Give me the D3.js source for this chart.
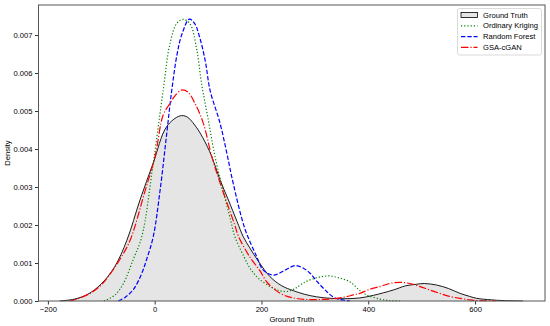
<!DOCTYPE html>
<html>
<head>
<meta charset="utf-8">
<script src="https://cdn.jsdelivr.net/npm/d3@7"></script>
<style>
  html, body { margin: 0; padding: 0; background: #fff; }
  svg { display: block; font-family: "Liberation Sans", Arial, sans-serif; }
</style>
</head>
<body>
<svg id="chart" width="550" height="326"></svg>
<script>
// ---- Data ----
const seriesNames = ["Ground Truth", "Ordinary Kriging", "Random Forest", "GSA-cGAN"];

const gtX = [-178,-150,-125,-100,-75,-52,-27.5,-3,22.5,47,60,75,90,107,122,138,154,166,178,194,216,238,260,280,303,330,355,384,410,447,470,490,505,528,550,572,590,603,630,655,690];
const gtY = [0,0.00005,0.00018,0.00045,0.0009,0.0016,0.00266,0.00362,0.00459,0.00487,0.00485,0.00463,0.0043,0.0038,0.0032,0.00266,0.0021,0.00169,0.0014,0.00105,0.00064,0.0004,0.00027,0.00018,0.00011,0.00007,0.00006,0.00008,0.00015,0.00029,0.0004,0.00044,0.00046,0.00042,0.00033,0.0002,0.00012,0.00007,0.00003,0.00001,0];

const okX = [-95,-75,-59,-40,-24,-3,16,29,42,54,66,79,88,100,113,130,141,150,166,179,194,216,232,247,262,278,300,325,345,366,384,397,422,440,460];
const okY = [0,0.00015,0.00045,0.0011,0.0017,0.0036,0.00555,0.0068,0.00732,0.00741,0.0073,0.0066,0.0057,0.0048,0.0038,0.0028,0.0022,0.0017,0.0012,0.00085,0.0006,0.00038,0.00028,0.00025,0.00032,0.00047,0.0006,0.00066,0.00061,0.0005,0.00028,0.00016,0.00005,0.00001,0];

const rfX = [-68,-55,-40,-25,-15,-2.6,10,22.5,32,42,50.5,65,75,85,95,103.6,122,135,147,169,191,203,222,240,263,280,291,305,322,335,347,366];
const rfY = [0,0.0001,0.0003,0.0007,0.0011,0.0017,0.0029,0.0044,0.00555,0.0065,0.007,0.00742,0.0073,0.0069,0.0063,0.00555,0.0047,0.0039,0.0031,0.0019,0.00117,0.00082,0.00068,0.00078,0.00093,0.00085,0.00073,0.0005,0.00025,0.0001,0.00004,0];

const ganX = [-160,-152,-121,-100,-84,-65,-46,-18,0.6,16,28.7,38,50,62,75.5,91,107,125,150,157,178.5,197,210,225,241,260,285,310,334,355,372,384,403,422,440,459,478,497,515,534,552,572,590,609,640];
const ganY = [0,0.00002,0.0002,0.00042,0.0007,0.0011,0.0016,0.0029,0.0038,0.0049,0.0052,0.0054,0.00555,0.0055,0.0052,0.00468,0.0038,0.003,0.002,0.0017,0.00115,0.0008,0.0005,0.0003,0.00016,0.00008,0.00004,0.00004,0.00006,0.0001,0.00016,0.0002,0.00031,0.00038,0.00046,0.00049,0.00046,0.00038,0.00029,0.0002,0.00012,0.00007,0.00003,0.00001,0];

const xTicks = [-200, 0, 200, 400, 600];
const yTicks = [0, 0.001, 0.002, 0.003, 0.004, 0.005, 0.006, 0.007];

// ---- Layout ----
const L = 38.5, R = 545, T = 5, B = 301;
const svg = d3.select("#chart");
const x = d3.scaleLinear().domain([-217.6, 731]).range([L, R]);
const y = d3.scaleLinear().domain([0, 0.00779]).range([B, T]);

const zip = (xs, ys) => xs.map((v, i) => [v, ys[i]]);
const curve = d3.curveCatmullRom.alpha(0.5);
const line = d3.line().x(d => x(d[0])).y(d => y(d[1])).curve(curve);
const area = d3.area().x(d => x(d[0])).y0(y(0)).y1(d => y(d[1])).curve(curve);

svg.append("clipPath").attr("id", "clip").append("rect")
  .attr("x", L).attr("y", T).attr("width", R - L).attr("height", B - T + 0.5);
const g = svg.append("g").attr("clip-path", "url(#clip)");

const gt = zip(gtX, gtY);
g.append("path").attr("d", area(gt)).attr("fill", "#e5e5e5");
g.append("path").attr("d", line(gt)).attr("fill", "none").attr("stroke", "#000").attr("stroke-width", 0.9);

const styles = [
  { data: zip(okX, okY), color: "#008000", dash: "1.2,2" },
  { data: zip(rfX, rfY), color: "#0000ff", dash: "4.4,1.9" },
  { data: zip(ganX, ganY), color: "#ff0000", dash: "7.5,1.9,1.2,1.9" }
];
styles.forEach(s => {
  g.append("path").attr("d", line(s.data)).attr("fill", "none")
    .attr("stroke", s.color).attr("stroke-width", 1.2).attr("stroke-dasharray", s.dash);
});

// ---- Axes ----
const xAxis = svg.append("g").attr("transform", `translate(0,${B})`)
  .call(d3.axisBottom(x).tickValues(xTicks).tickSize(3.5).tickPadding(2).tickFormat(d3.format("d")));
const yAxis = svg.append("g").attr("transform", `translate(${L},0)`)
  .call(d3.axisLeft(y).tickValues(yTicks).tickSize(3.5).tickPadding(2.5).tickFormat(d3.format(".3f")));
[xAxis, yAxis].forEach(a => {
  a.select(".domain").remove();
  a.selectAll(".tick line").attr("stroke", "#000").attr("stroke-width", 0.8);
  a.selectAll(".tick text").attr("fill", "#000").style("font-size", "7.6px")
    .style("font-family", '"Liberation Sans", Arial, sans-serif');
});
xAxis.selectAll(".tick text").text(d => d < 0 ? "\u2212" + Math.abs(d) : d);

svg.append("rect").attr("x", L).attr("y", T).attr("width", R - L).attr("height", B - T)
  .attr("fill", "none").attr("stroke", "#555").attr("stroke-width", 1);

svg.append("text").attr("x", (L + R) / 2).attr("y", 321.5).attr("text-anchor", "middle")
  .style("font-size", "7.6px").text("Ground Truth");
svg.append("text").attr("transform", `translate(9.5,${(T + B) / 2}) rotate(-90)`)
  .attr("text-anchor", "middle").style("font-size", "7.6px").text("Density");

// ---- Legend ----
const lg = svg.append("g");
lg.append("rect").attr("x", 457.5).attr("y", 8.5).attr("width", 84).attr("height", 46.5)
  .attr("rx", 2).attr("fill", "#fff").attr("fill-opacity", 0.8).attr("stroke", "#d0d0d0").attr("stroke-width", 0.8);
const rowY = [15, 25.8, 36.6, 47.4];
const hx0 = 461, hx1 = 477.5;
lg.append("rect").attr("x", hx0).attr("y", rowY[0] - 2.5).attr("width", hx1 - hx0).attr("height", 5)
  .attr("fill", "#e5e5e5").attr("stroke", "#000").attr("stroke-width", 0.8);
styles.forEach((s, i) => {
  lg.append("line").attr("x1", hx0).attr("x2", hx1).attr("y1", rowY[i + 1]).attr("y2", rowY[i + 1])
    .attr("stroke", s.color).attr("stroke-width", 1.2).attr("stroke-dasharray", s.dash);
});
seriesNames.forEach((n, i) => {
  lg.append("text").attr("x", 483).attr("y", rowY[i]).attr("dy", "0.35em")
    .style("font-size", "7.6px").text(n);
});
</script>
</body>
</html>
